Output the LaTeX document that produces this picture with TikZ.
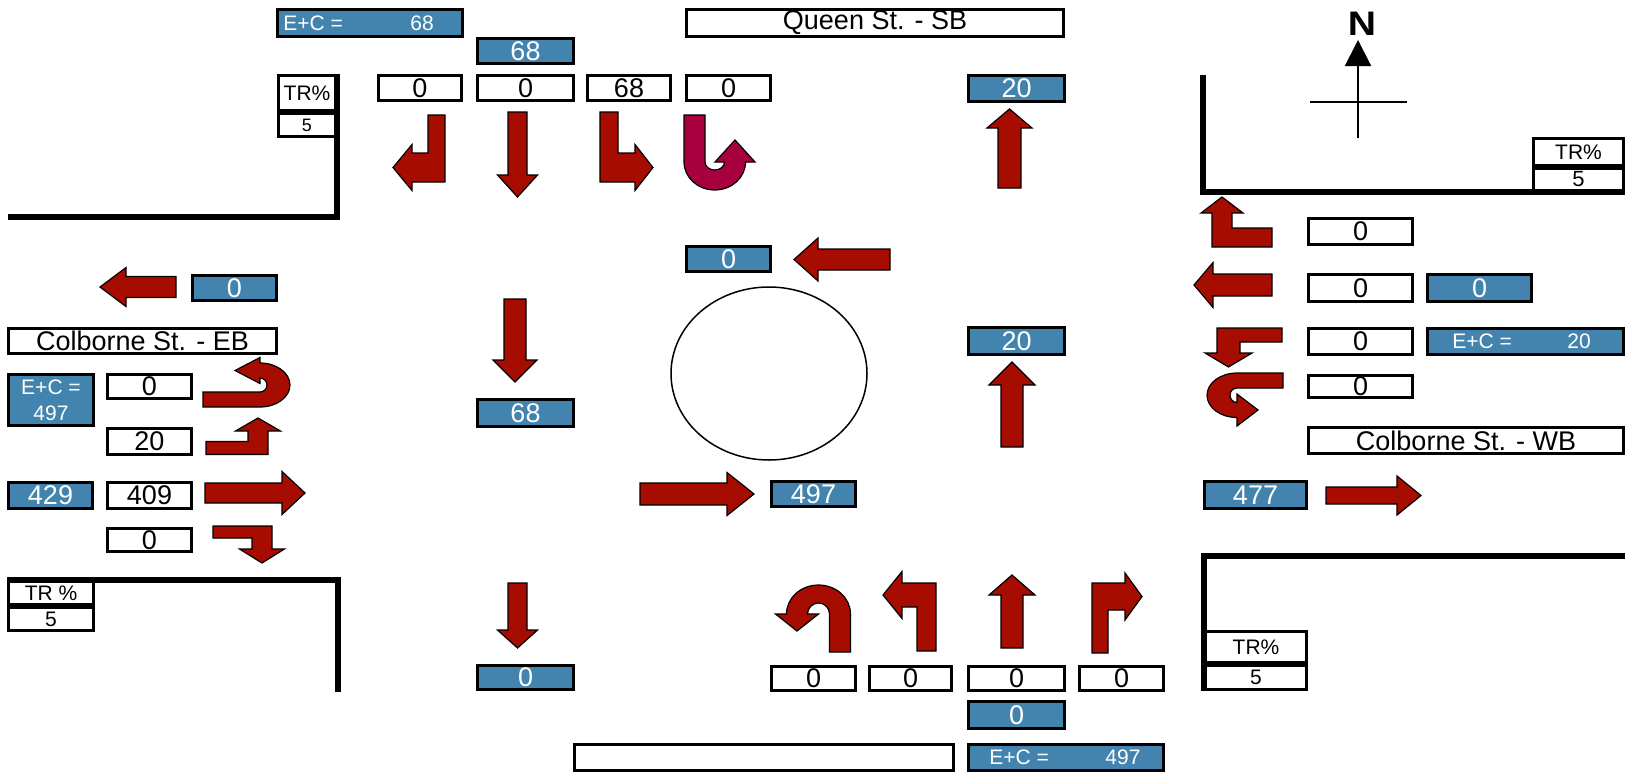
\documentclass[tikz,border=0pt]{standalone}
\usepackage{fontspec}
\setmainfont{Liberation Sans}
\usetikzlibrary{arrows.meta,shapes.geometric}
\definecolor{tblue}{RGB}{66,132,173}
\definecolor{tred}{RGB}{166,12,0}
\definecolor{tcrim}{RGB}{168,0,62}
\newcommand\fsz[1]{\fontsize{#1}{#1}\selectfont}
\newcommand\mkbox[7]{\node[#6, minimum width={(#4-#2-3)*0.5pt}, minimum height={(#5-#3-3)*0.5pt}] (#1) at ({(#2+#4)/2},{(#3+#5)/2}) {#7};}
\tikzset{
  arrowline/.style={draw=black, line width=0.6pt, line join=miter},
  pics/thru/.style n args={5}{code={%
    \path[arrowline, fill=#5] ({-#3/2},0) -- ({-#3/2},{-(#1-#2)}) -- ({-#4/2},{-(#1-#2)}) -- (0,{-#1}) -- ({#4/2},{-(#1-#2)}) -- ({#3/2},{-(#1-#2)}) -- ({#3/2},0) -- cycle;}},
  pics/lturn/.style n args={7}{code={%
    \path[arrowline, fill=#7] ({#1/2},0) -- ({#1/2},{-#2}) -- ({-#4},{-#2}) -- ({-#4},{-#2+#3/2-#6/2}) -- ({-#4-#5},{-#2+#3/2}) -- ({-#4},{-#2+#3/2+#6/2}) -- ({-#4},{-#2+#3}) -- ({-#1/2},{-#2+#3}) -- ({-#1/2},0) -- cycle;}},
  pics/rturn/.style n args={7}{code={%
    \path[arrowline, fill=#7, xscale=-1] ({#1/2},0) -- ({#1/2},{-#2}) -- ({-#4},{-#2}) -- ({-#4},{-#2+#3/2-#6/2}) -- ({-#4-#5},{-#2+#3/2}) -- ({-#4},{-#2+#3/2+#6/2}) -- ({-#4},{-#2+#3}) -- ({-#1/2},{-#2+#3}) -- ({-#1/2},0) -- cycle;}},
  pics/uturn/.style n args={8}{code={%
    \pgfmathsetmacro\uw{#1/2}%
    \pgfmathsetmacro\uRo{#2/2+#1/2}%
    \pgfmathsetmacro\uRi{#2/2-#1/2}%
    \path[arrowline, fill=#8] (\uw,0) -- (\uw,{-#3}) arc[start angle=0, end angle=-180, x radius=\uRo, y radius=#4] -- ({-#2-#7/2},{-#3}) -- ({-#2},{-#3+#6}) -- ({-#2+#7/2},{-#3}) -- ({-#2+#1/2},{-#3}) arc[start angle=-180, end angle=0, x radius=\uRi, y radius=#5] -- (-\uw,0) -- cycle;}},
}
\begin{document}
\begin{tikzpicture}[x=0.5pt,y=-0.5pt,
  wbx/.style={draw=black, line width=1.5pt, fill=white, inner sep=0pt, font=\fsz{13.5}},
  bbx/.style={draw=black, line width=1.5pt, fill=tblue, text=white, inner sep=0pt, font=\fsz{13.5}},
  ect/.style={text=white, inner sep=0pt, font=\fsz{10.5}},
  road/.style={line width=2.75pt, line join=miter}]
\useasboundingbox (0,0) rectangle (1637,782);

% ---- top ----
\mkbox{ec68}{276}{8}{464}{38}{bbx}{}
\node[ect, anchor=west] (ec68l) at (283,23) {E+C =};
\node[ect] (ec68n) at (422,23) {68};
\mkbox{queen}{685}{8}{1065}{38}{wbx}{Queen St. - SB}
\mkbox{sbtot}{476}{37}{575}{65}{bbx}{68}
\mkbox{trA}{277}{74}{337}{112}{wbx, font=\fsz{10.5}}{TR\%}
\mkbox{trAv}{277}{112}{337}{138}{wbx, font=\fsz{9}}{5}
\mkbox{sbR}{377}{74}{463}{102}{wbx}{0}
\mkbox{sbT}{476}{74}{575}{102}{wbx}{0}
\mkbox{sbL}{586}{74}{672}{102}{wbx}{68}
\mkbox{sbU}{685}{74}{772}{102}{wbx}{0}
\mkbox{nbout}{967}{74}{1066}{103}{bbx}{20}

% ---- left ----
\mkbox{ebout}{191}{274}{278}{302}{bbx}{0}
\mkbox{colEB}{7}{327}{278}{355}{wbx}{Colborne St. - EB}
\mkbox{ecEB}{7}{373}{95}{427}{bbx, align=center, font={\fontsize{10.5}{13}\selectfont}}{E+C =\\497}
\mkbox{ebU}{106}{373}{193}{400}{wbx}{0}
\mkbox{ebL}{106}{427}{193}{456}{wbx}{20}
\mkbox{ebin}{7}{481}{94}{510}{bbx}{429}
\mkbox{ebT}{106}{481}{193}{510}{wbx}{409}
\mkbox{ebR}{106}{527}{193}{553}{wbx}{0}
\mkbox{trC}{7}{580}{95}{606}{wbx, font=\fsz{10.5}}{TR \%}
\mkbox{trCv}{7}{606}{95}{632}{wbx, font=\fsz{10.5}}{5}

% ---- centre ----
\mkbox{cwb}{685}{245}{772}{273}{bbx}{0}
\mkbox{csb}{476}{398}{575}{428}{bbx}{68}
\mkbox{ceb}{770}{480}{857}{508}{bbx}{497}
\mkbox{cnb}{967}{326}{1066}{356}{bbx}{20}
\mkbox{csb2}{476}{664}{575}{691}{bbx}{0}
\node[draw, ellipse, line width=0.75pt, minimum width=98pt, minimum height=86.5pt, inner sep=0pt] (circ) at (769,373.5) {};

% ---- right ----
\mkbox{wbR}{1307}{217}{1414}{246}{wbx}{0}
\mkbox{wbT}{1307}{273}{1414}{303}{wbx}{0}
\mkbox{wbin}{1426}{273}{1533}{303}{bbx}{0}
\mkbox{wbL}{1307}{327}{1414}{356}{wbx}{0}
\mkbox{ecWB}{1426}{327}{1625}{356}{bbx}{}
\node[ect, anchor=west] (ecWBl) at (1452,341.5) {E+C =};
\node[ect] (ecWBn) at (1579,341.5) {20};
\mkbox{wbU}{1307}{374}{1414}{399}{wbx}{0}
\mkbox{colWB}{1307}{426}{1625}{455}{wbx}{Colborne St. - WB}
\mkbox{wbout}{1203}{480}{1308}{510}{bbx}{477}
\mkbox{trB}{1532}{137}{1625}{167}{wbx, font=\fsz{10.5}}{TR\%}
\mkbox{trBv}{1532}{167}{1625}{192}{wbx, font=\fsz{11}}{5}
\mkbox{trD}{1204}{630}{1308}{664}{wbx, font=\fsz{10.5}}{TR\%}
\mkbox{trDv}{1204}{664}{1308}{691}{wbx, font=\fsz{10.5}}{5}

% ---- bottom ----
\mkbox{nbU}{770}{665}{857}{692}{wbx}{0}
\mkbox{nbL}{868}{665}{953}{692}{wbx}{0}
\mkbox{nbT}{967}{665}{1066}{692}{wbx}{0}
\mkbox{nbR}{1078}{665}{1165}{692}{wbx}{0}
\mkbox{nbin}{967}{700}{1066}{730}{bbx}{0}
\mkbox{nbname}{573}{743}{955}{772}{wbx}{}
\mkbox{ecNB}{967}{743}{1165}{772}{bbx}{}
\node[ect, anchor=west] (ecNBl) at (989,757.5) {E+C =};
\node[ect] (ecNBn) at (1123,757.5) {497};

% ---- roads ----
\draw[road] (8,217) -- (337,217) -- (337,74);
\draw[road] (1203,75) -- (1203,192) -- (1625,192);
\draw[road] (7,580) -- (338,580) -- (338,692);
\draw[road] (1625,556) -- (1204,556) -- (1204,691);

% ---- north arrow ----
\coordinate (nbase) at (1358,138);
\coordinate (ntip) at (1358,40);
\coordinate (ewl) at (1310,102);
\coordinate (ewr) at (1407,102);
\draw[line width=1pt, -{Triangle[length=13pt,width=13pt]}] (nbase) -- (ntip);
\draw[line width=1pt] (ewl) -- (ewr);
\node[font=\fsz{17}\bfseries, inner sep=0pt, xscale=1.15] (north) at (1362,24) {N};

% ---- NB arrows ----
\pic at (840,652) {uturn={21}{43}{38}{29}{11}{17}{43}{tred}};
\pic at (926.5,651) {lturn={19}{68}{24}{24.5}{19}{47}{tred}};
\pic at (1012,648) {thru={73}{20}{22}{46}{tred}};
\pic at (1100,653) {rturn={16}{70}{27}{25}{17}{47}{tred}};
% ---- SB arrows ----
\pic[rotate=180] at (436.5,115) {rturn={17}{67}{29}{24.5}{19}{46}{tred}};
\pic[rotate=180] at (517.5,112) {thru={85}{22}{19}{40}{tred}};
\pic[rotate=180] at (609,112) {lturn={18}{70}{29}{26}{18}{46}{tred}};
\pic[rotate=180] at (694.5,115) {uturn={21}{40.5}{47}{28}{8}{22}{40}{tcrim}};
% ---- EB arrows ----
\pic[rotate=-90] at (203,399.5) {uturn={15}{29}{57}{30}{7}{25}{26}{tred}};
\pic[rotate=-90] at (206,448) {lturn={13}{62}{20}{17}{13}{45}{tred}};
\pic[rotate=-90] at (205,493) {thru={100}{23}{20}{43}{tred}};
\pic[rotate=-90] at (213,532) {rturn={12}{59}{20}{17}{14}{45}{tred}};
% ---- WB arrows ----
\pic[rotate=90] at (1272,237.5) {rturn={19}{60}{20}{24.5}{16}{42}{tred}};
\pic[rotate=90] at (1272,285) {thru={78}{19}{22}{45}{tred}};
\pic[rotate=90] at (1282,335) {lturn={14}{65}{23}{18}{14}{47}{tred}};
\pic[rotate=90] at (1283,380.5) {uturn={15}{29.5}{46}{30}{7}{21}{32}{tred}};
% ---- other arrows ----
\pic[rotate=180] at (515,299) {thru={83}{22}{22}{44}{tred}};
\pic[rotate=180] at (517.5,583) {thru={65}{18}{19}{40}{tred}};
\pic[rotate=90] at (890,259.5) {thru={96}{24}{21}{43}{tred}};
\pic[rotate=-90] at (640,494) {thru={114}{27}{22}{43}{tred}};
\pic[rotate=90] at (176,287) {thru={76}{26}{21}{39}{tred}};
\pic[rotate=-90] at (1326,495.5) {thru={95}{24}{17}{39}{tred}};
\pic at (1009.5,188) {thru={79}{19}{23}{45}{tred}};
\pic at (1012,447) {thru={85}{23}{22}{46}{tred}};
\end{tikzpicture}
\end{document}
